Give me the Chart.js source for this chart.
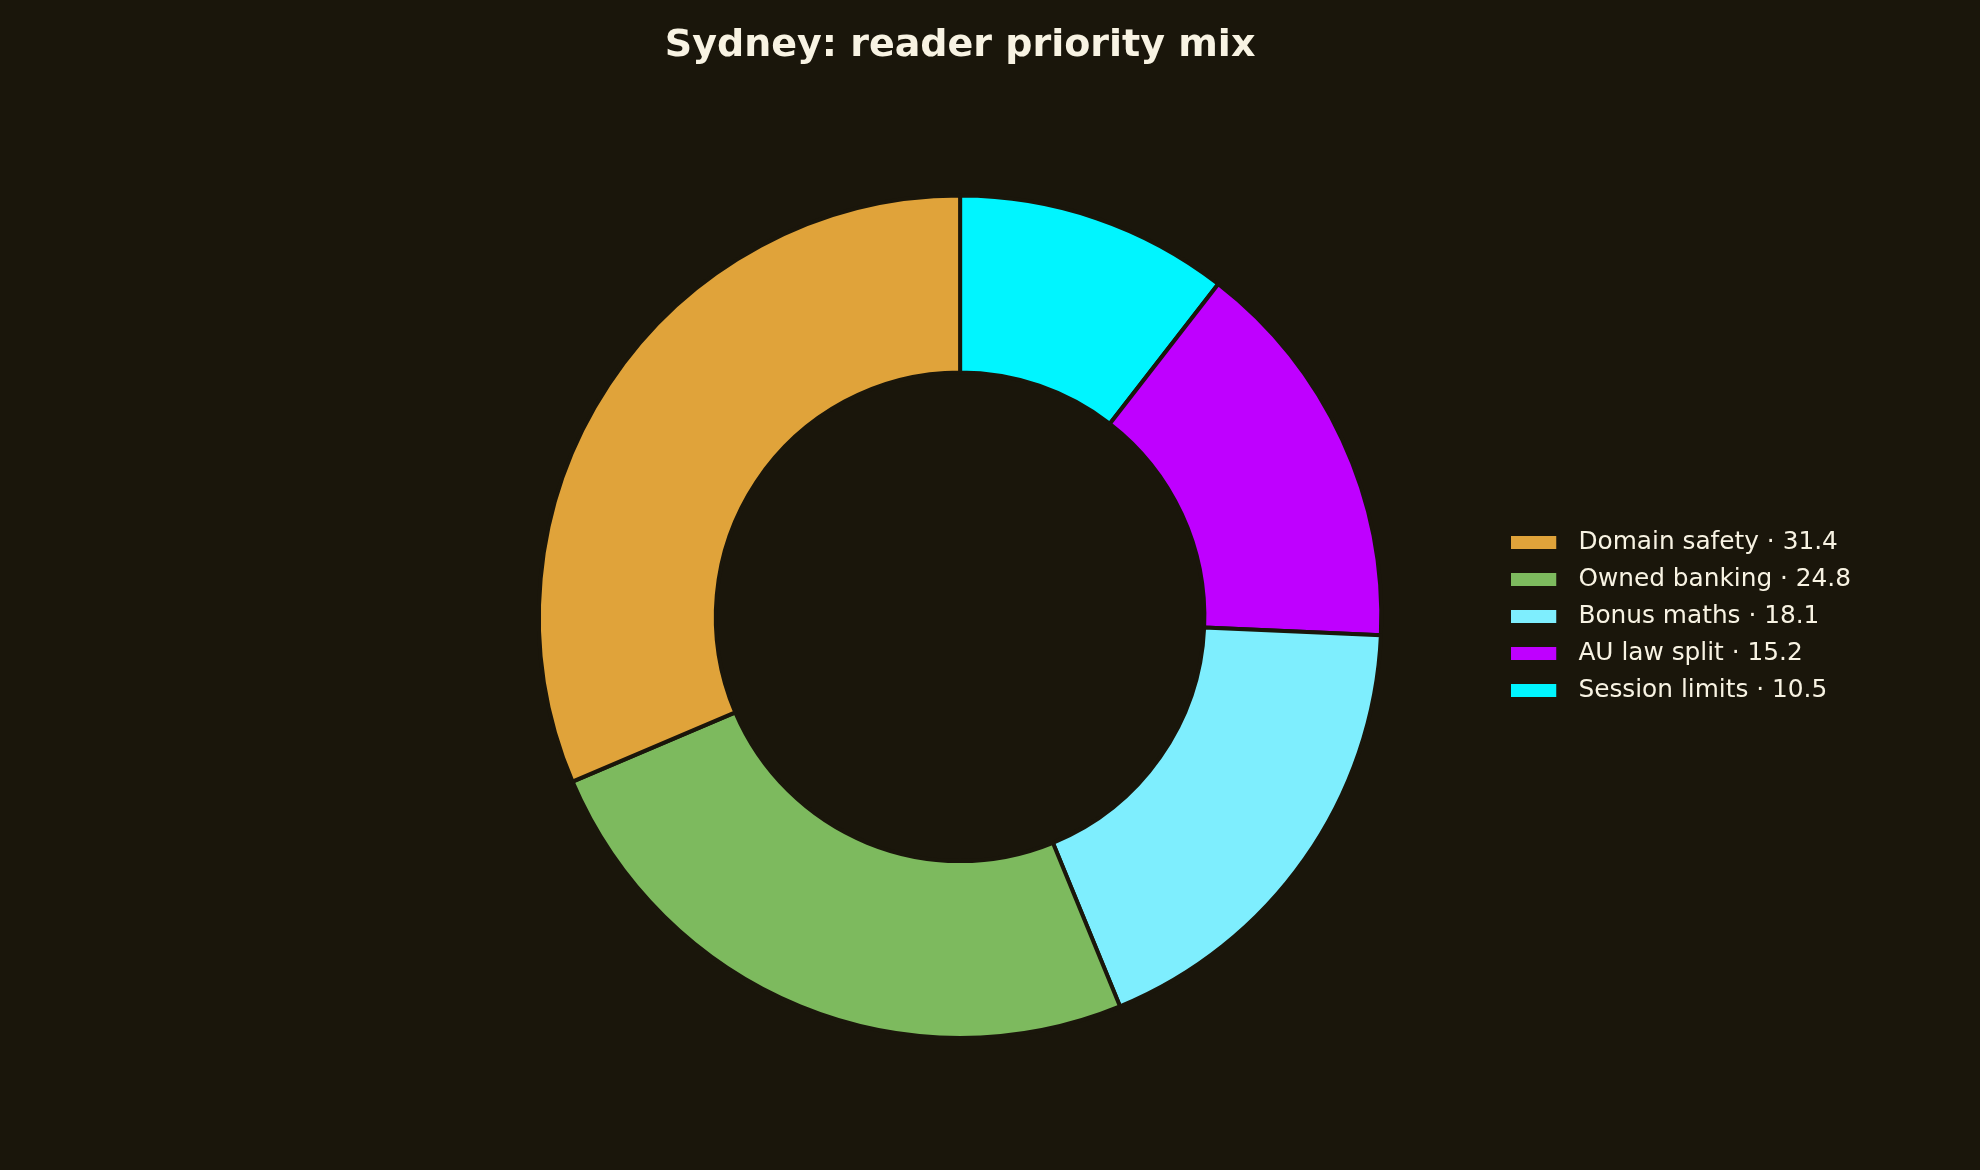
<!DOCTYPE html>
<html>
<head>
<meta charset="utf-8">
<script src="https://cdn.jsdelivr.net/npm/chart.js@4.4.0/dist/chart.umd.min.js"></script>
<style>
  html, body { margin: 0; padding: 0; background: #1a160b; }
  #wrap { width: 1980px; height: 1170px; position: relative; }
</style>
</head>
<body>
<div id="wrap"><canvas id="mix"></canvas></div>
<script>
// legend order (top to bottom)
const categories = ['Domain safety', 'Owned banking', 'Bonus maths', 'AU law split', 'Session limits'];
const shares = [31.4, 24.8, 18.1, 15.2, 10.5];
const colours = ['#e0a33a', '#7dba5e', '#7eeefe', '#bf00ff', '#00f5ff'];

const bg = '#1a160b';
const ink = '#f8f3e3';

// slices run clockwise from the top, starting with the last legend entry
const sliceLabels = categories.slice().reverse();
const sliceValues = shares.slice().reverse();
const sliceColours = colours.slice().reverse();

// legend swatch: 45x13 patch with some empty room after it, so the text sits further right
function swatch(col) {
  const c = document.createElement('canvas');
  c.width = 55;
  c.height = 13;
  const g = c.getContext('2d');
  g.fillStyle = col;
  g.fillRect(0, 0, 45, 13);
  return c;
}

const bgPlugin = {
  id: 'bg',
  beforeDraw(chart) {
    const c = chart.ctx;
    c.save();
    c.fillStyle = bg;
    c.fillRect(0, 0, chart.width, chart.height);
    c.restore();
  }
};

// centre the title over the doughnut rather than the padded box
const titleSpan = {
  id: 'titleSpan',
  afterLayout(chart) {
    const t = chart.titleBlock;
    if (!t) return;
    t.left = chart.chartArea.left;
    t.right = chart.chartArea.right;
    t.width = t.right - t.left;
  }
};

const ctx = document.getElementById('mix').getContext('2d');
const chart = new Chart(ctx, {
  type: 'doughnut',
  data: {
    labels: sliceLabels,
    datasets: [{
      data: sliceValues,
      backgroundColor: sliceColours,
      borderColor: bg,
      borderWidth: 4,
      hoverOffset: 0
    }]
  },
  options: {
    responsive: true,
    maintainAspectRatio: false,
    animation: false,
    cutout: '58%',
    layout: {
      padding: { left: 421, right: 119, top: 0, bottom: 130 }
    },
    plugins: {
      title: {
        display: true,
        text: 'Sydney: reader priority mix',
        color: ink,
        font: { family: 'DejaVu Sans', size: 38, weight: 'bold' },
        padding: { top: 23, bottom: 125 }
      },
      legend: {
        position: 'right',
        align: 'center',
        fullSize: false,
        labels: {
          color: ink,
          font: { family: 'DejaVu Sans', size: 24.8 },
          usePointStyle: true,
          pointStyleWidth: 54.6,
          boxHeight: 13,
          padding: 12.2,
          generateLabels: () => categories.map((name, i) => ({
            text: name + ' \u00b7 ' + shares[i].toFixed(1),
            fillStyle: colours[i],
            strokeStyle: colours[i],
            lineWidth: 0,
            pointStyle: swatch(colours[i]),
            fontColor: ink,
            hidden: false,
            index: i
          }))
        }
      },
      tooltip: { enabled: false }
    }
  },
  plugins: [bgPlugin, titleSpan]
});
</script>
</body>
</html>
